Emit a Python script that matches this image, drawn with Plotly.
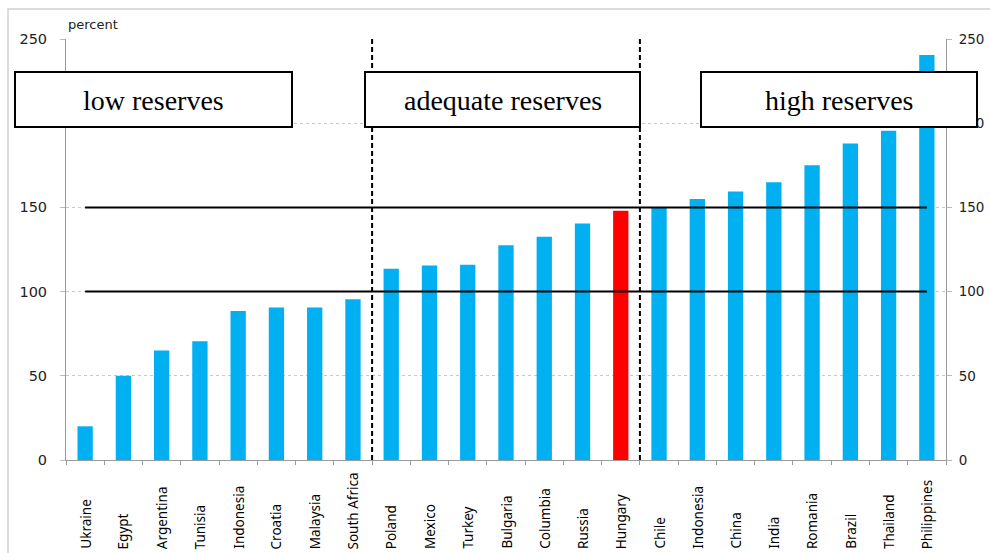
import plotly.graph_objects as go

countries = ["Ukraine", "Egypt", "Argentina", "Tunisia", "Indonesia", "Croatia", "Malaysia",
             "South Africa", "Poland", "Mexico", "Turkey", "Bulgaria", "Columbia", "Russia",
             "Hungary", "Chile", "Indonesia", "China", "India", "Romania", "Brazil",
             "Thailand", "Philippines"]
values = [20, 50, 65, 70.5, 88.5, 90.5, 90.5, 95.5, 113.5, 115.5, 116, 127.5, 132.5, 140.5,
          148, 150, 155, 159.5, 165, 175, 188, 195.5, 240.5]
highlight = "Hungary"
thresholds = [100, 150]
group_bounds = [7.5, 14.5]
group_labels = ["low reserves", "adequate reserves", "high reserves"]
y_ticks = [0, 50, 100, 150, 200, 250]

W, H = 990, 553
L, R, T, B = 66, 44, 39, 93
pw, ph = W - L - R, H - T - B


def px_x(p):
    return (p - L) / pw


def px_y(p):
    return (H - B - p) / ph


xs = list(range(len(countries)))
colors = ["#FF0000" if c == highlight else "#00B0F0" for c in countries]

fig = go.Figure()
fig.add_bar(x=xs, y=values, marker=dict(color=colors, line=dict(width=0)), width=0.4,
            showlegend=False, hoverinfo="skip")
for t in thresholds:
    fig.add_scatter(x=[xs[0], xs[-1]], y=[t, t], mode="lines", yaxis="y2",
                    line=dict(color="black", width=2), showlegend=False, hoverinfo="skip")

axis_font = dict(family="DejaVu Sans", size=14.5, color="#222222")
right_font = dict(family="DejaVu Sans", size=13.5, color="#222222")
fig.update_layout(
    width=W, height=H,
    margin=dict(l=L, r=R, t=T, b=B, autoexpand=False),
    paper_bgcolor="white", plot_bgcolor="white",
    xaxis=dict(range=[-0.5, len(countries) - 0.5], tickvals=[i - 0.5 for i in range(len(countries) + 1)],
               ticks="outside", ticklen=4, tickcolor="#9a9a9a", showticklabels=False,
               showline=True, linecolor="#9a9a9a", linewidth=1, showgrid=False, zeroline=False,
               automargin=False),
    yaxis=dict(range=[0, 250], tickvals=y_ticks, ticks="outside", ticklen=5, tickcolor="#bbbbbb",
               showline=True, linecolor="#9a9a9a", linewidth=1, showgrid=True,
               gridcolor="#c8c8c8", griddash="3px,3px", gridwidth=1, zeroline=False,
               tickfont=axis_font, ticklabelstandoff=10, automargin=False),
    yaxis2=dict(range=[0, 250], tickvals=y_ticks, overlaying="y", side="right", ticks="outside",
                ticklen=5, tickcolor="#bbbbbb", showline=True, linecolor="#9a9a9a", linewidth=1,
                showgrid=False, zeroline=False, tickfont=right_font, ticklabelstandoff=4,
                automargin=False),
)

shapes = []
# outer chart border
shapes.append(dict(type="rect", xref="paper", yref="paper", x0=px_x(8), x1=px_x(1010),
                   y0=px_y(600), y1=px_y(9), line=dict(color="#cfcfcf", width=1.5), layer="below"))
for b in group_bounds:
    shapes.append(dict(type="line", xref="x", yref="y", x0=b, x1=b, y0=0, y1=250,
                       line=dict(color="black", width=2, dash="5px,3px"), layer="above"))

boxes = [(15, 292), (365, 640), (701, 977)]
for (x0, x1), lab in zip(boxes, group_labels):
    shapes.append(dict(type="rect", xref="paper", yref="paper", x0=px_x(x0), x1=px_x(x1),
                       y0=px_y(127), y1=px_y(72), fillcolor="white",
                       line=dict(color="black", width=2), layer="above"))
    fig.add_annotation(xref="paper", yref="paper", x=px_x((x0 + x1) / 2), y=px_y(100),
                       text=lab, showarrow=False, xanchor="center", yanchor="middle",
                       font=dict(family="Liberation Serif", size=28, color="black"))
fig.update_layout(shapes=shapes)

for x, c in zip(xs, countries):
    fig.add_annotation(xref="x", yref="paper", x=x, y=px_y(551), text=c, textangle=-90,
                       showarrow=False, xanchor="center", yanchor="bottom",
                       font=dict(family="Noto Sans", size=13.5, color="black"))

fig.add_annotation(xref="paper", yref="paper", x=0, y=px_y(24), text="percent", showarrow=False,
                   xanchor="left", yanchor="middle",
                   font=dict(family="DejaVu Sans", size=13, color="#222222"))

fig.write_html("out.html")
